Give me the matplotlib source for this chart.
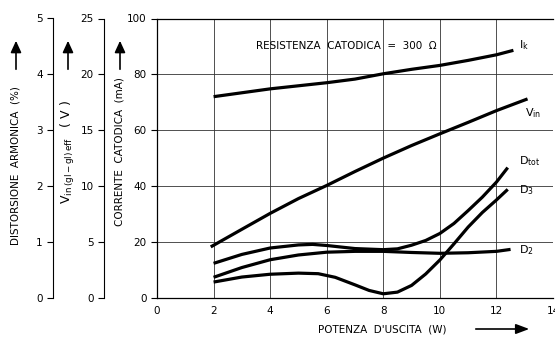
import matplotlib.pyplot as plt

# output power (W) and curves, main scale 0..100 (mA)
ik_x = [2, 4, 6, 7, 8, 9, 10, 11, 12, 12.6]
ik_y = [72, 74.8, 77, 78.3, 80.2, 81.8, 83.2, 85, 87, 88.6]

vin_x = [1.9, 3, 4, 5, 6, 7, 8, 9, 10, 11, 12, 13.1]
vin_y = [18.2, 24.5, 30.2, 35.5, 40.2, 45.2, 50, 54.5, 58.7, 62.8, 67, 71.2]

dtot_x = [2, 3, 4, 5, 5.5, 6, 7, 8, 8.5, 9, 9.5, 10, 10.5, 11, 11.5, 12, 12.4]
dtot_y = [12.3, 15.5, 17.8, 18.9, 19.1, 18.7, 17.6, 17.2, 17.5, 18.8, 20.5, 23, 26.6, 31.2, 36, 41.4, 46.6]

d2_x = [2, 3, 4, 5, 6, 7, 8, 9, 10, 11, 12, 12.5]
d2_y = [7.3, 10.8, 13.6, 15.3, 16.3, 16.6, 16.6, 16.2, 15.9, 16.1, 16.6, 17.3]

d3_x = [2, 3, 4, 5, 5.7, 6.3, 7, 7.5, 8, 8.5, 9, 9.5, 10, 10.5, 11, 11.5, 12, 12.4]
d3_y = [5.6, 7.4, 8.4, 8.8, 8.6, 7.3, 4.6, 2.6, 1.4, 2, 4.4, 8.5, 13.5, 19.3, 25.3, 30.5, 35, 38.8]

x_ticks = [0, 2, 4, 6, 8, 10, 12, 14]
ma_ticks = [0, 20, 40, 60, 80, 100]
v_ticks = [0, 5, 10, 15, 20, 25]
d_ticks = [0, 1, 2, 3, 4, 5]

FS = 7.5
fig = plt.figure(figsize=(5.55, 3.38), dpi=100)
W, H = 555.0, 338.0
x0, x1 = 157, 553
y0, y1 = 297.7, 18.5
ax = fig.add_axes([x0 / W, 1 - y0 / H, (x1 - x0) / W, (y0 - y1) / H])

for xs, ys in [(ik_x, ik_y), (vin_x, vin_y), (dtot_x, dtot_y), (d2_x, d2_y), (d3_x, d3_y)]:
    ax.plot(xs, ys, color='black', lw=2.3, solid_capstyle='butt')

ax.set_xlim(0, 14)
ax.set_ylim(0, 100)
ax.set_xticks(x_ticks)
ax.set_yticks(ma_ticks)
ax.tick_params(labelsize=FS, length=4, width=0.8, direction='out')
ax.tick_params(axis='x', length=0, pad=6)
ax.grid(True, color='#333333', lw=0.6)
ax.spines['right'].set_visible(False)
for s in ['left', 'top', 'bottom']:
    ax.spines[s].set_linewidth(0.9)

# extra left scales
axv = ax.twinx()
axv.set_ylim(0, 25)
axv.set_yticks(v_ticks)
axv.yaxis.set_ticks_position('left')
axv.yaxis.set_label_position('left')
axv.spines['left'].set_position(('axes', -53 / 396))
for s in ['right', 'top', 'bottom']:
    axv.spines[s].set_visible(False)
axv.tick_params(labelsize=FS, length=4, width=0.8)

axd = ax.twinx()
axd.set_ylim(0, 5)
axd.set_yticks(d_ticks)
axd.yaxis.set_ticks_position('left')
axd.spines['left'].set_position(('axes', -104 / 396))
for s in ['right', 'top', 'bottom']:
    axd.spines[s].set_visible(False)
axd.tick_params(labelsize=FS, length=4, width=0.8)

# annotations in the plot
ax.text(6.7, 90, 'RESISTENZA  CATODICA  =  300  \u03a9', fontsize=FS, ha='center', va='center')
ax.text(12.8, 90.5, '$\\mathrm{I_k}$', fontsize=FS + 0.5, ha='left', va='center')
ax.text(13.0, 66, '$\\mathrm{V_{in}}$', fontsize=FS + 0.5, ha='left', va='center')
ax.text(12.8, 49, '$\\mathrm{D_{tot}}$', fontsize=FS + 0.5, ha='left', va='center')
ax.text(12.8, 38.5, '$\\mathrm{D_3}$', fontsize=FS + 0.5, ha='left', va='center')
ax.text(12.8, 17, '$\\mathrm{D_2}$', fontsize=FS + 0.5, ha='left', va='center')


def fx(px):
    return px / W


def fy(py):
    return 1 - py / H


# axis titles with arrows
fig.text(fx(16), fy(166), 'DISTORSIONE  ARMONICA  (%)', rotation=90, fontsize=FS,
         ha='center', va='center')
fig.text(fx(68), fy(152), '$\\mathrm{V_{in\\,(gl-gl)\\,eff}}$   ( V )', rotation=90, fontsize=FS + 1.5,
         ha='center', va='center')
fig.text(fx(120), fy(152), 'CORRENTE  CATODICA  (mA)', rotation=90, fontsize=FS,
         ha='center', va='center')
for px in [16, 68, 120]:
    fig.add_artist(plt.matplotlib.patches.FancyArrowPatch(
        (fx(px), fy(72)), (fx(px), fy(38)), transform=fig.transFigure,
        arrowstyle='-|>,head_length=7,head_width=3.2', color='black', lw=1.2))

fig.text(fx(382), fy(329), "POTENZA  D'USCITA  (W)", fontsize=FS, ha='center', va='center')
fig.add_artist(plt.matplotlib.patches.FancyArrowPatch(
    (fx(473), fy(329)), (fx(532), fy(329)), transform=fig.transFigure,
    arrowstyle='-|>,head_length=8,head_width=3', color='black', lw=1.2))

fig.savefig('out.png', dpi=100)
